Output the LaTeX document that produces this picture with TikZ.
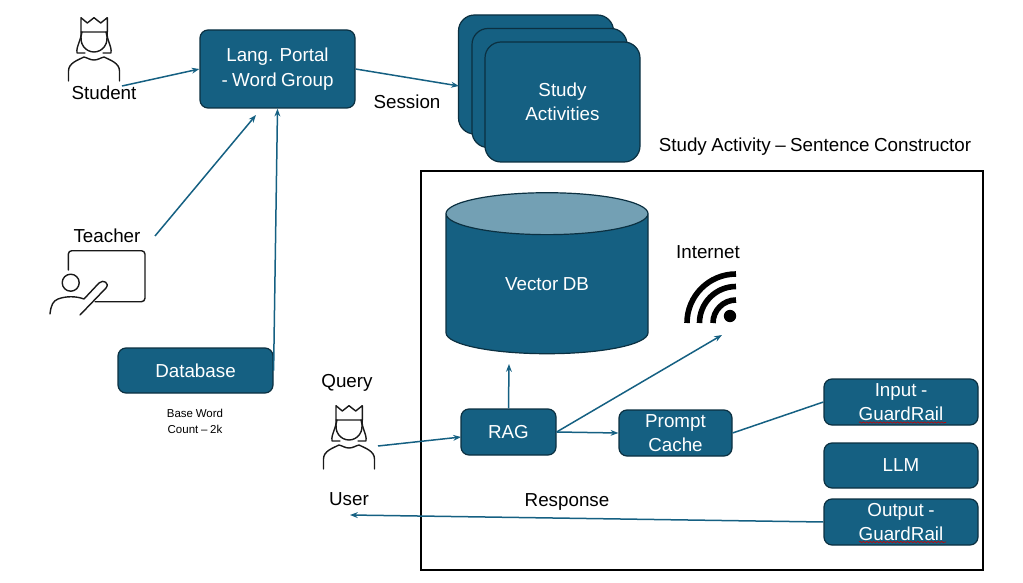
\documentclass[tikz,border=0pt]{standalone}
\usepackage{fontspec}
\setmainfont[WordSpace=0.85]{Liberation Sans}
\usetikzlibrary{arrows.meta}
\usetikzlibrary{shapes.geometric}
\usetikzlibrary{decorations.pathmorphing}
\definecolor{boxblue}{HTML}{156082}
\definecolor{boxedge}{HTML}{0B3041}
\definecolor{boxtop}{HTML}{73A0B4}
\tikzset{>={Stealth[scale=.8]}}
\tikzset{
  boxnode/.style={draw=boxedge, fill=boxblue, line width=1.2pt, rounded corners=8pt, inner sep=0pt,
    text=white, align=center, font=\fontsize{18.8}{24.5}\selectfont},
  cardnode/.style={boxnode, rounded corners=16pt, minimum width=155pt, minimum height=119pt},
  guardnode/.style={boxnode, minimum width=154pt, minimum height=46pt},
  textlabel/.style={inner sep=0pt, align=center, text=black, font=\fontsize{18.8}{24}\selectfont},
  conn/.style={draw=boxblue, line width=1.5pt},
  icon/.style={draw=black!90, line width=1.4pt, line cap=round, line join=round},
  squiggle/.style={draw=red!80!black, line width=.6pt, decorate, decoration={snake, amplitude=.7pt, segment length=3.4pt}},
  person/.pic={
    \draw[icon] (-13,-10) -- (-13,-24.3) -- (-6.7,-19) -- (0,-24.3) -- (6.7,-19) -- (13.3,-24.3) -- (13.3,-10) -- cycle;
    \draw[icon] (-12,-10) .. controls (-16,2) and (-8,10) .. (0,10) .. controls (8,10) and (16,2) .. (12,-10);
    \draw[icon] (-13,-10) .. controls (-12,-2) and (-18,3) .. (-17,11) -- (-9,11);
    \draw[icon] (13.3,-10) .. controls (12,-2) and (18,3) .. (17,11) -- (9,11);
    \draw[icon] (-25.5,39) -- (-25.5,29) .. controls (-25.5,21) and (-16,18) .. (-10,15) .. controls (-6,16) and (-4,18) .. (0,18) .. controls (4,18) and (6,16) .. (10,15) .. controls (16,18) and (25.5,21) .. (25.5,29) -- (25.5,39);
  }
}

\begin{document}
\begin{tikzpicture}[x=1pt, y=-1pt]
  \useasboundingbox (0,0) rectangle (1023,583);
  % frame
  \node[draw=black, line width=2pt, minimum width=562pt, minimum height=399pt, inner sep=0pt] (frame) at (702,370.5) {};
  % people
  \pic at (94,42) {person};
  \pic at (349,430) {person};
  % teacher
  \draw[icon, rounded corners=3.5pt] (68.3,270) -- (68.3,250.7) -- (145,250.7) -- (145,301.7) -- (95,301.7);
  \draw[icon] (70.7,282.7) circle (8.5);
  \draw[icon] (50,314) .. controls (51,305) and (53,301) .. (58,299) .. controls (66,296) and (76,296) .. (84,299) -- (99,283) .. controls (103,279) and (110,283) .. (106,288) -- (80,315);
  % wifi
  \draw[black, line width=5.6pt] (736,274) arc (-90:-180:49);
  \draw[black, line width=5.6pt] (736,286.5) arc (-90:-180:36.5);
  \draw[black, line width=5.6pt] (736,300) arc (-90:-180:23);
  \fill[black] (730,316) circle (6.2);
  % boxes
  \node[boxnode, minimum width=155pt, minimum height=78pt] (portal) at (277.5,69) {Lang. Portal\\- Word Group};
  \node[cardnode] (cardback) at (536,74.5) {};
  \node[cardnode] (cardmid) at (549.5,88) {};
  \node[cardnode, minimum height=120pt] (cardfront) at (562.5,102) {Study\\Activities};
  \node[boxnode, minimum width=155pt, minimum height=45pt] (database) at (195.5,370.5) {Database};
  \node[boxnode, minimum width=95pt, minimum height=46pt] (rag) at (508.5,432) {RAG};
  \node[boxnode, minimum width=113pt, minimum height=46pt] (prompt) at (675.5,433) {Prompt\\Cache};
  \node[guardnode] (input) at (901,402) {Input -\\GuardRail};
  \node[guardnode, minimum height=45pt] (llm) at (901,465.5) {LLM};
  \node[guardnode] (output) at (901,522) {Output -\\GuardRail};
  \node[cylinder, shape border rotate=90, aspect=.5, draw=boxedge, line width=1.2pt, inner sep=0pt,
    minimum width=202pt, minimum height=161pt, cylinder uses custom fill, cylinder body fill=boxblue,
    cylinder end fill=boxtop, text=white, font=\fontsize{18.8}{24}\selectfont] (vectordb) at (547,284) {Vector DB};
  % spell check marks
  \draw[squiggle] (859,422.5) -- (946,422.5);
  \draw[squiggle] (859,542) -- (946,542);
  % labels
  \node[textlabel] (studentlabel) at (104,93) {Student};
  \node[textlabel] (teacherlabel) at (107,236) {Teacher};
  \node[textlabel] (sessionlabel) at (407,102) {Session};
  \node[textlabel] (framelabel) at (815,147) {Study Activity – Sentence Constructor};
  \node[textlabel] (internetlabel) at (708,252) {Internet};
  \node[textlabel] (querylabel) at (347,383) {Query};
  \node[textlabel] (userlabel) at (349,499) {User};
  \node[textlabel] (responselabel) at (567,502) {Response};
  \node[textlabel, font=\fontsize{11.5}{16}\selectfont] (countlabel) at (195,421) {Base Word\\Count – 2k};
  % free ends
  \coordinate (studentout) at (122,86);
  \coordinate (teacherout) at (155,236);
  \coordinate (teacherin) at (256,115);
  \coordinate (sessionin) at (459,86);
  \coordinate (userout) at (378,446);
  \coordinate (ragin) at (461,437);
  \coordinate (dbin) at (509,364);
  \coordinate (internetin) at (722,335);
  \coordinate (userin) at (350,515);
  % connectors
  \draw[conn, ->] (studentout) -- (portal.west);
  \draw[conn, ->] (teacherout) -- (teacherin);
  \draw[conn, ->] (database.east) -- (portal.south);
  \draw[conn, ->] (portal.east) -- (sessionin);
  \draw[conn, ->] (userout) -- (ragin);
  \draw[conn, ->] (rag.north) -- (dbin);
  \draw[conn, ->] (rag.east) -- (internetin);
  \draw[conn, ->] (rag.east) -- (prompt.west);
  \draw[conn] (prompt.east) -- (input.west);
  \draw[conn, ->] (output.west) -- (userin);
\end{tikzpicture}
\end{document}
